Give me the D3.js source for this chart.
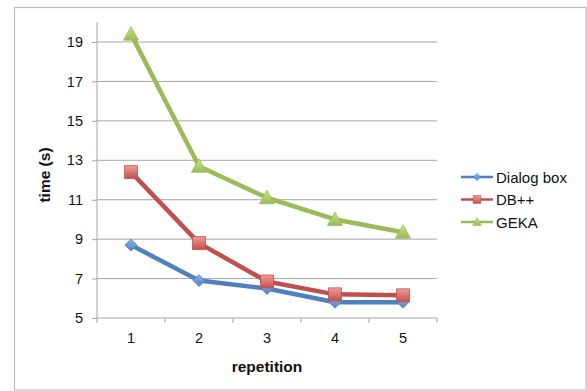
<!DOCTYPE html>
<html><head><meta charset="utf-8">
<script src="https://cdn.jsdelivr.net/npm/d3@7"></script>
<style>body{margin:0;background:#fff}svg{display:block;font-family:"Liberation Sans",Arial,sans-serif}</style>
</head><body>
<svg id="c" width="587" height="391"></svg>
<script>
const categories = [1, 2, 3, 4, 5];
const dialogBox = [8.7, 6.9, 6.5, 5.8, 5.8];
const dbpp = [12.4, 8.8, 6.85, 6.2, 6.15];
const geka = [19.4, 12.7, 11.1, 10.0, 9.35];
const yTicks = [5, 7, 9, 11, 13, 15, 17, 19];
const seriesNames = ["Dialog box", "DB++", "GEKA"];
const colors = ["#4F81BD", "#C0504D", "#9BBB59"];

(function () {
const series = [
  {name: seriesNames[0], values: dialogBox, color: colors[0], marker: "diamond"},
  {name: seriesNames[1], values: dbpp, color: colors[1], marker: "square"},
  {name: seriesNames[2], values: geka, color: colors[2], marker: "triangle"}
];

const svg = d3.select("#c");
const pLeft = 97, pRight = 437, pTop = 22.3, pBottom = 318;

// outer border
svg.append("rect").attr("x", 14.5).attr("y", 7.5).attr("width", 571.5).attr("height", 382.5)
  .attr("fill", "#fff").attr("stroke", "#bdbdbd").attr("stroke-width", 1.2);

const x = d3.scaleBand().domain(categories).range([pLeft, pRight]);
const y = d3.scaleLinear().domain([5, 20]).range([pBottom, pTop]);

// gradients
const defs = svg.append("defs");
const gradDefs = [["gB", "#8fb6e8", "#4F81BD"], ["gR", "#f49a98", "#C0504D"], ["gG", "#c9e38f", "#9BBB59"]];
gradDefs.forEach(([id, c1, c2]) => {
  const g = defs.append("linearGradient").attr("id", id).attr("x1", 0).attr("y1", 0).attr("x2", 0).attr("y2", 1);
  g.append("stop").attr("offset", "0%").attr("stop-color", c1);
  g.append("stop").attr("offset", "100%").attr("stop-color", c2);
});
const gradIds = ["gB", "gR", "gG"];

// gridlines
svg.append("g").selectAll("line").data(yTicks.filter(t => t > 5)).join("line")
  .attr("x1", pLeft).attr("x2", pRight).attr("y1", d => y(d)).attr("y2", d => y(d))
  .attr("stroke", "#a6a6a6").attr("stroke-width", 1);

// y axis
const yAxis = d3.axisLeft(y).tickValues(yTicks).tickSize(5).tickPadding(9).tickFormat(d3.format("d"));
const gy = svg.append("g").attr("transform", `translate(${pLeft},0)`).call(yAxis);
gy.select(".domain").attr("stroke", "#a6a6a6").attr("d", `M0,${pTop}V${pBottom}`);
gy.selectAll(".tick line").attr("stroke", "#a6a6a6");
gy.selectAll("text").attr("font-size", 14.5).attr("fill", "#111").attr("font-family", "Liberation Sans, Arial, sans-serif");

// x axis
const xAxis = d3.axisBottom(x).tickSize(0).tickPadding(15);
const gx = svg.append("g").attr("transform", `translate(0,${pBottom})`).call(xAxis);
gx.select(".domain").attr("stroke", "#a6a6a6").attr("d", `M${pLeft},0H${pRight}`);
gx.selectAll("text").attr("font-size", 14.5).attr("fill", "#111").attr("font-family", "Liberation Sans, Arial, sans-serif");
// x tick marks at band boundaries
const bounds = categories.map(c => x(c)).concat([pRight]);
svg.append("g").selectAll("line").data(bounds).join("line")
  .attr("x1", d => d).attr("x2", d => d).attr("y1", pBottom).attr("y2", pBottom + 5)
  .attr("stroke", "#a6a6a6");

// axis titles
svg.append("text").attr("transform", `translate(50,175) rotate(-90)`).attr("text-anchor", "middle")
  .attr("font-size", 15.5).attr("font-weight", "bold").attr("fill", "#111").text("time (s)");
svg.append("text").attr("x", (pLeft + pRight) / 2).attr("y", 372).attr("text-anchor", "middle")
  .attr("font-size", 15.5).attr("font-weight", "bold").attr("fill", "#111").text("repetition");

const cx = c => x(c) + x.bandwidth() / 2;

function markerPath(type) {
  if (type === "diamond") return "M0,-6L6,0L0,6L-6,0Z";
  if (type === "square") return "M-6.5,-6.5H6.5V6.5H-6.5Z";
  return "M0,-7.5L7.5,6L-7.5,6Z";
}

// lines
const line = d3.line().x((d, i) => cx(categories[i])).y(d => y(d));
series.forEach((s) => {
  svg.append("path").datum(s.values).attr("d", line).attr("fill", "none")
    .attr("stroke", s.color).attr("stroke-width", 4.5).attr("stroke-linejoin", "round");
});
series.forEach((s, si) => {
  svg.append("g").selectAll("path").data(s.values).join("path")
    .attr("transform", (d, i) => `translate(${cx(categories[i])},${y(d)})`)
    .attr("d", markerPath(s.marker))
    .attr("fill", `url(#${gradIds[si]})`).attr("stroke", s.color).attr("stroke-width", 0.8);
});

// legend
const leg = svg.append("g");
series.forEach((s, i) => {
  const ly = 177 + i * 22.5;
  leg.append("line").attr("x1", 461).attr("x2", 493).attr("y1", ly).attr("y2", ly)
    .attr("stroke", s.color).attr("stroke-width", 2.5);
  leg.append("path").attr("transform", `translate(477,${ly}) scale(0.6)`).attr("d", markerPath(s.marker))
    .attr("fill", `url(#${gradIds[i]})`).attr("stroke", s.color).attr("stroke-width", 1);
  leg.append("text").attr("x", 496).attr("y", ly + 5.5).attr("font-size", 15).attr("fill", "#111").text(s.name);
});
})();
</script>
</body></html>
